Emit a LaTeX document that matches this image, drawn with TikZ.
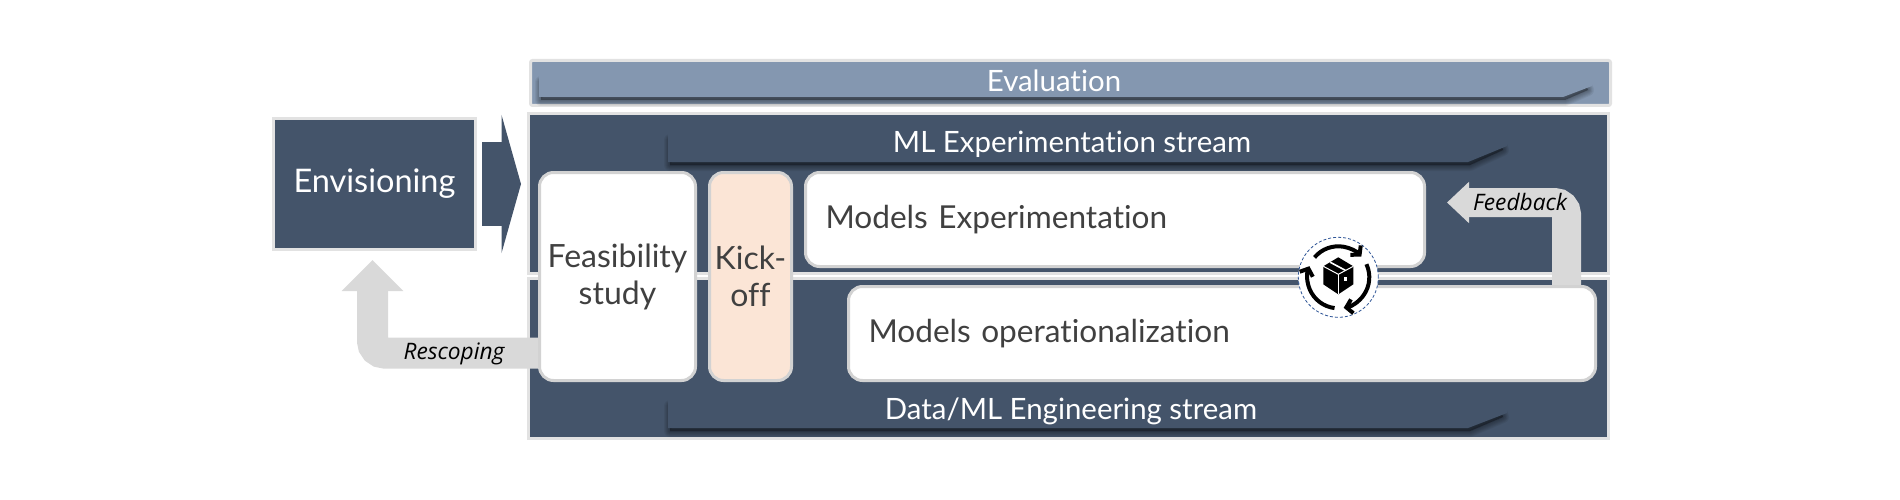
\documentclass[tikz,border=0pt]{standalone}
\usepackage{fontspec}
\setmainfont{Lato}[Ligatures=NoCommon]
\newfontfamily\notefont{Open Sans}
\usetikzlibrary{arrows.meta}
\definecolor{panelblue}{HTML}{44546A}
\definecolor{evalblue}{HTML}{8497B0}
\definecolor{edgegray}{HTML}{E2E2E2}
\definecolor{boxgray}{HTML}{D2D2D2}
\definecolor{arrowgray}{HTML}{D9D9D9}
\definecolor{kickpeach}{HTML}{FBE5D6}
\definecolor{textgray}{HTML}{404040}
\definecolor{icondash}{HTML}{2F5597}

\begin{document}
\begin{tikzpicture}[x=1pt,y=-1pt,
panel/.style={rectangle,draw=edgegray,fill=panelblue,line width=3pt,minimum width=1080pt,minimum height=160pt},
phase/.style={rectangle,draw=boxgray,fill=white,line width=3pt,rounded corners=14pt,text=textgray,align=center,inner sep=0pt,font=\fontsize{32}{37}\selectfont,minimum height=208pt},
model/.style={phase,align=left,inner xsep=20pt,minimum height=94pt,font=\fontsize{31.6}{37}\selectfont},
barlabel/.style={text=white,inner sep=0pt,font=\fontsize{29.4}{34}\selectfont},
note/.style={text=black,inner sep=0pt,font=\notefont\itshape\fontsize{22.7}{27}\selectfont},
bentarrow/.style={draw=arrowgray,rounded corners=12pt},
iconarc/.style={line width=4pt,-{Straight Barb[length=6pt,width=14pt]}}]
\useasboundingbox (0,0) rectangle (1900,500);
\node[panel,draw=edgegray,fill=evalblue,minimum height=45pt,rounded corners=2pt] (Eval) at (1070.5,83) {};
\node[panel] (TopPanel) at (1068.5,193.5) {};
\node[panel] (LowPanel) at (1068.5,358.5) {};
\foreach \xl/\yt/\yb/\nx/\tx/\ty/\col in {539/72/97/1563/1592/86/evalblue,668/130/162/1468/1507/146/panelblue,668/396/428/1468/1507/413/panelblue}{
\foreach \w in {2,4,6,8,10,12}{
\filldraw[black,opacity=.06,line width=\w pt,line join=round] (\xl+2,\yt+10)--(\tx-8,\yt+10)--(\tx-4,\ty+4)--(\nx+2,\yb+3)--(\xl+2,\yb+3)--cycle;
}
\fill[\col] (\xl,\yt)--(\tx,\yt)--(\tx,\ty)--(\nx,\yb)--(\xl,\yb)--cycle;
}
\node[barlabel] (EvalLabel) at (1054,80.5) {Evaluation};
\node[barlabel] (MLLabel) at (1072,144) {ML Experimentation stream};
\node[barlabel] (DataLabel) at (1071,411.5) {Data/ML Engineering stream};
\node[rectangle,draw=edgegray,fill=panelblue,line width=3pt,text=white,minimum width=202pt,minimum height=131pt,font=\fontsize{32.5}{38}\selectfont] (Env) at (374.5,184) {Envisioning};
\node[phase,minimum width=156pt] (Feas) at (617.5,276.5) {Feasibility\\study};
\node[phase,fill=kickpeach,minimum width=82pt] (Kick) at (750.5,276.5) {Kick-\\off};
\node[model,text width=579pt] (Exp) at (1115,219.5) {Models Experimentation};
\node[model,text width=707pt] (Ops) at (1222,333.5) {Models operationalization};
\draw[panelblue,line width=83pt,shorten <=5pt,shorten >=6pt,-{Triangle[length=19.5pt,width=138pt]}] (Env.east)--(Env.east -| TopPanel.west);
\coordinate (RescopeStart) at (538,353);
\coordinate (RescopeTip) at (372.5,260);
\draw[bentarrow,line width=31pt,-{Triangle[length=31pt,width=60pt]}] (RescopeStart) -| (RescopeTip);
\coordinate (FeedbackStart) at (1566.5,285);
\coordinate (FeedbackTip) at (1447,202.5);
\draw[bentarrow,line width=29pt,-{Triangle[length=22pt,width=40pt]}] (FeedbackStart) |- (FeedbackTip);
\node[note] (Rescoping) at (454,353.5) {Rescoping};
\node[note] (Feedback) at (1520,202) {Feedback};
\node[circle,draw=icondash,fill=white,dashed,dash pattern=on 3pt off 2pt,line width=.8pt,minimum size=80pt,inner sep=0pt] (Icon) at (1338.3,277.3) {};
\begin{scope}[shift={(Icon.center)},y=1pt]
\draw[iconarc] (140:31) arc[start angle=140,end angle=42,radius=31];
\draw[iconarc] (25:31) arc[start angle=25,end angle=-80,radius=31];
\draw[iconarc] (-97:31) arc[start angle=-97,end angle=-201,radius=31];
\fill[black] (0,20)--(15,11)--(15,-7)--(0,-17)--(-15,-7)--(-15,11)--cycle;
\draw[white,line width=1pt] (-15,11)--(0,3)--(15,11);
\draw[white,line width=1pt] (0,3)--(0,-17);
\draw[white,line width=1.6pt] (-8,15)--(7,7);
\fill[white] (6,-4) rectangle (9,0);
\end{scope}
\end{tikzpicture}
\end{document}
